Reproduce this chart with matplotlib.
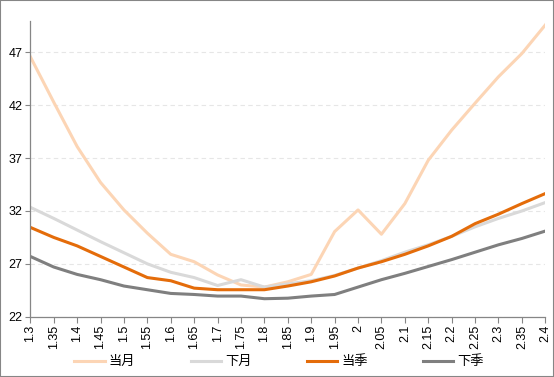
import matplotlib.pyplot as plt
from matplotlib.patches import Rectangle

plt.rcParams['font.family'] = ['Liberation Sans', 'Noto Sans CJK SC']

# x categories
x_labels = ['1.3', '1.35', '1.4', '1.45', '1.5', '1.55', '1.6', '1.65', '1.7', '1.75',
            '1.8', '1.85', '1.9', '1.95', '2', '2.05', '2.1', '2.15', '2.2', '2.25',
            '2.3', '2.35', '2.4']

dang_yue = [46.6, 42.3, 38.1, 34.7, 32.1, 29.9, 27.9, 27.2, 25.95, 25.0,
            24.8, 25.3, 26.0, 30.05, 32.1, 29.8, 32.7, 36.8, 39.65, 42.2,
            44.7, 46.9, 49.6]
xia_yue = [32.35, 31.3, 30.2, 29.1, 28.05, 27.0, 26.2, 25.7, 24.95, 25.5,
           24.8, 25.1, 25.4, 25.9, 26.6, 27.3, 28.1, 28.8, 29.6, 30.5,
           31.3, 32.0, 32.8]
dang_ji = [30.45, 29.5, 28.7, 27.7, 26.7, 25.7, 25.4, 24.7, 24.55, 24.55,
           24.55, 24.9, 25.3, 25.85, 26.6, 27.2, 27.9, 28.7, 29.6, 30.8,
           31.7, 32.7, 33.65]
xia_ji = [27.7, 26.7, 26.0, 25.5, 24.9, 24.55, 24.2, 24.1, 23.95, 23.95,
          23.7, 23.75, 23.95, 24.1, 24.8, 25.5, 26.1, 26.75, 27.4, 28.1,
          28.8, 29.4, 30.1]

y_ticks = [22, 27, 32, 37, 42, 47]

fig = plt.figure(figsize=(5.54, 3.77), dpi=100)
ax = fig.add_axes([0.0547, 0.160, 0.9296, 0.785])

xs = list(range(len(x_labels)))
ax.plot(xs, dang_yue, color='#FCD5B5', lw=2.2, label='当月', solid_joinstyle='round')
ax.plot(xs, xia_yue, color='#D9D9D9', lw=2.2, label='下月', solid_joinstyle='round')
ax.plot(xs, dang_ji, color='#E46C0A', lw=2.2, label='当季', solid_joinstyle='round')
ax.plot(xs, xia_ji, color='#7F7F7F', lw=2.2, label='下季', solid_joinstyle='round')

ax.set_xlim(0, len(x_labels) - 1)
ax.set_ylim(22, 50)
ax.set_yticks(y_ticks)
ax.set_xticks(xs)
ax.set_xticklabels(x_labels, rotation=90)
ax.tick_params(axis='x', length=4, width=0.8, color='#868686', labelsize=9, pad=2)
ax.tick_params(axis='y', length=3.5, width=0.8, color='#868686', labelsize=9, pad=2)

for side in ['top', 'right']:
    ax.spines[side].set_visible(False)
for side in ['left', 'bottom']:
    ax.spines[side].set_color('#868686')
    ax.spines[side].set_linewidth(0.9)

ax.grid(axis='y', color='#E6E6E6', linestyle=(0, (4, 3)), lw=0.8)
ax.set_axisbelow(True)

fig.legend(loc='center', bbox_to_anchor=(0.504, 0.04), ncol=4, frameon=False,
           fontsize=9.5, handlelength=2.3, handletextpad=0.3, columnspacing=4.2)

fig.patches.append(Rectangle((0, 0), 1, 1, transform=fig.transFigure, fill=False,
                             edgecolor='#868686', lw=1.5))

fig.savefig('out.png', dpi=100)
